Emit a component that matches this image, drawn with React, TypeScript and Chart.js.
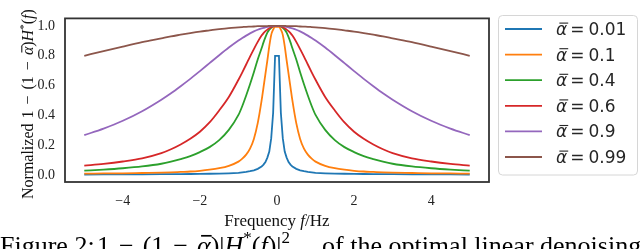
import React, { useEffect, useRef } from "react";
import { Chart, registerables } from "chart.js";
Chart.register(...registerables);

const freqs = [-5, -4.5, -4, -3.5, -3, -2.75, -2.5, -2.25, -2, -1.75, -1.5, -1.25, -1, -0.9, -0.8, -0.7, -0.6, -0.5, -0.4, -0.35, -0.3, -0.25, -0.2, -0.15, -0.1, -0.05,
  0.05, 0.1, 0.15, 0.2, 0.25, 0.3, 0.35, 0.4, 0.5, 0.6, 0.7, 0.8, 0.9, 1, 1.25, 1.5, 1.75, 2, 2.25, 2.5, 2.75, 3, 3.5, 4, 4.5, 5];

const alphas = ["0.01", "0.1", "0.4", "0.6", "0.9", "0.99"];
const colors = ["#1f77b4", "#ff7f0e", "#2ca02c", "#d62728", "#9467bd", "#8c564b"];

const a001 = [0.007, 0.0075, 0.008, 0.0085, 0.009, 0.0095, 0.010, 0.0105, 0.011, 0.012, 0.013, 0.015, 0.018, 0.021, 0.024, 0.029, 0.035, 0.045, 0.06, 0.073, 0.09, 0.12, 0.16, 0.25, 0.42, 0.80,
  0.80, 0.42, 0.25, 0.16, 0.12, 0.09, 0.073, 0.06, 0.045, 0.035, 0.029, 0.024, 0.021, 0.018, 0.015, 0.013, 0.012, 0.011, 0.0105, 0.010, 0.0095, 0.009, 0.0085, 0.008, 0.0075, 0.007];
const a01 = [0.013, 0.014, 0.015, 0.017, 0.019, 0.021, 0.024, 0.027, 0.032, 0.039, 0.049, 0.065, 0.093, 0.113, 0.14, 0.18, 0.245, 0.35, 0.50, 0.59, 0.68, 0.77, 0.865, 0.94, 0.975, 0.993,
  0.993, 0.975, 0.94, 0.865, 0.77, 0.68, 0.59, 0.50, 0.35, 0.245, 0.18, 0.14, 0.113, 0.093, 0.065, 0.049, 0.039, 0.032, 0.027, 0.024, 0.021, 0.019, 0.017, 0.015, 0.014, 0.013];
const a04 = [0.033, 0.04, 0.049, 0.061, 0.079, 0.093, 0.11, 0.13, 0.157, 0.19, 0.237, 0.305, 0.405, 0.465, 0.535, 0.61, 0.69, 0.775, 0.85, 0.89, 0.925, 0.955, 0.975, 0.988, 0.996, 1.0,
  1.0, 0.996, 0.988, 0.975, 0.955, 0.925, 0.89, 0.85, 0.775, 0.69, 0.61, 0.535, 0.465, 0.405, 0.305, 0.237, 0.19, 0.157, 0.13, 0.11, 0.093, 0.079, 0.061, 0.049, 0.04, 0.033];
const a06 = [0.066, 0.078, 0.094, 0.115, 0.150, 0.176, 0.208, 0.246, 0.293, 0.355, 0.435, 0.525, 0.64, 0.69, 0.742, 0.795, 0.845, 0.893, 0.935, 0.952, 0.965, 0.975, 0.984, 0.991, 0.996, 0.999,
  0.999, 0.996, 0.991, 0.984, 0.975, 0.965, 0.952, 0.935, 0.893, 0.845, 0.795, 0.742, 0.69, 0.64, 0.525, 0.435, 0.355, 0.293, 0.246, 0.208, 0.176, 0.150, 0.115, 0.094, 0.078, 0.066];
const a09 = [0.270, 0.314, 0.366, 0.430, 0.507, 0.550, 0.597, 0.646, 0.698, 0.751, 0.804, 0.855, 0.902, 0.919, 0.935, 0.950, 0.963, 0.974, 0.983, 0.987, 0.990, 0.993, 0.996, 0.998, 0.999, 1.0,
  1.0, 0.999, 0.998, 0.996, 0.993, 0.990, 0.987, 0.983, 0.974, 0.963, 0.950, 0.935, 0.919, 0.902, 0.855, 0.804, 0.751, 0.698, 0.646, 0.597, 0.550, 0.507, 0.430, 0.366, 0.314, 0.270];
const a099 = [0.800, 0.832, 0.862, 0.891, 0.917, 0.930, 0.941, 0.952, 0.962, 0.970, 0.978, 0.985, 0.990, 0.992, 0.994, 0.995, 0.996, 0.998, 0.998, 0.999, 0.999, 0.999, 1.0, 1.0, 1.0, 1.0,
  1.0, 1.0, 1.0, 1.0, 0.999, 0.999, 0.999, 0.998, 0.998, 0.996, 0.995, 0.994, 0.992, 0.990, 0.985, 0.978, 0.970, 0.962, 0.952, 0.941, 0.930, 0.917, 0.891, 0.862, 0.832, 0.800];

const series = [a001, a01, a04, a06, a09, a099];

const xTicks = [-4, -2, 0, 2, 4];
const yTicks = [0, 0.2, 0.4, 0.6, 0.8, 1.0];

type Run = { t: string; font: string; dx?: number; dy?: number; bar?: number };

function drawRuns(ctx: CanvasRenderingContext2D, runs: Run[], x: number, y: number, draw = true): number {
  let cx = x;
  for (const r of runs) {
    cx += r.dx || 0;
    ctx.font = r.font;
    const w = ctx.measureText(r.t).width;
    if (draw) {
      ctx.fillText(r.t, cx, y + (r.dy || 0));
      if (r.bar) {
        ctx.save();
        ctx.lineWidth = Math.max(1, r.bar * 0.065);
        ctx.strokeStyle = ctx.fillStyle as string;
        ctx.beginPath();
        const by = y + (r.dy || 0) - r.bar * 0.7;
        ctx.moveTo(cx + w * 0.3, by);
        ctx.lineTo(cx + w + 1, by);
        ctx.stroke();
        ctx.restore();
      }
    }
    cx += w;
  }
  return cx - x;
}

const SERIF = '"Liberation Serif", "Times New Roman", serif';
const SANS = '"DejaVu Sans", sans-serif';

const decor = {
  id: "decor",
  afterDraw(chart: any) {
    const { ctx, chartArea: a } = chart;
    ctx.save();
    // frame
    ctx.strokeStyle = "#333333";
    ctx.lineWidth = 1.8;
    ctx.strokeRect(a.left, a.top, a.right - a.left, a.bottom - a.top);

    // legend box
    const lx = 498.5, ly = 15.5, lw = 139, lh = 159.5, rad = 4;
    ctx.beginPath();
    ctx.moveTo(lx + rad, ly);
    ctx.lineTo(lx + lw - rad, ly);
    ctx.quadraticCurveTo(lx + lw, ly, lx + lw, ly + rad);
    ctx.lineTo(lx + lw, ly + lh - rad);
    ctx.quadraticCurveTo(lx + lw, ly + lh, lx + lw - rad, ly + lh);
    ctx.lineTo(lx + rad, ly + lh);
    ctx.quadraticCurveTo(lx, ly + lh, lx, ly + lh - rad);
    ctx.lineTo(lx, ly + rad);
    ctx.quadraticCurveTo(lx, ly, lx + rad, ly);
    ctx.closePath();
    ctx.fillStyle = "rgba(255,255,255,0.8)";
    ctx.fill();
    ctx.strokeStyle = "#d6d6d6";
    ctx.lineWidth = 1;
    ctx.stroke();

    ctx.textBaseline = "alphabetic";
    ctx.textAlign = "left";
    chart.data.datasets.forEach((ds: any, i: number) => {
      const cy = 29 + i * 25.6;
      ctx.strokeStyle = ds.borderColor;
      ctx.lineWidth = 1.8;
      ctx.beginPath();
      ctx.moveTo(505, cy);
      ctx.lineTo(542, cy);
      ctx.stroke();
      ctx.fillStyle = "#262626";
      drawRuns(ctx, [
        { t: "α", font: `italic 17px ${SANS}`, bar: 17 },
        { t: "=", font: `17px ${SANS}`, dx: 3 },
        { t: alphas[i], font: `17px ${SANS}`, dx: 4 },
      ], 556, cy + 6);
    });

    // x-axis title
    ctx.fillStyle = "#111";
    const xr: Run[] = [
      { t: "Frequency ", font: `17px ${SERIF}` },
      { t: "f", font: `italic 17px ${SERIF}` },
      { t: "/Hz", font: `17px ${SERIF}` },
    ];
    const xw = drawRuns(ctx, xr, 0, 0, false);
    drawRuns(ctx, xr, (a.left + a.right) / 2 - xw / 2, 226);

    // y-axis title (rotated, reading upwards from the bottom)
    ctx.save();
    ctx.translate(33, 199);
    ctx.rotate(-Math.PI / 2);
    drawRuns(ctx, [
      { t: "Normalized", font: `16px ${SERIF}` },
      { t: "1", font: `16px ${SERIF}`, dx: 5 },
      { t: "−", font: `16px ${SERIF}`, dx: 6 },
      { t: "(1", font: `16px ${SERIF}`, dx: 6 },
      { t: "−", font: `16px ${SERIF}`, dx: 6 },
      { t: "α", font: `italic 16px ${SERIF}`, dx: 6, bar: 16 },
      { t: ")", font: `16px ${SERIF}` },
      { t: "H", font: `italic 16px ${SERIF}` },
      { t: "*", font: `11px ${SERIF}`, dy: -6 },
      { t: "(", font: `16px ${SERIF}` },
      { t: "f", font: `italic 16px ${SERIF}` },
      { t: ")", font: `16px ${SERIF}` },
    ], 0, 0);
    ctx.restore();

    // caption (cut off by the bottom edge)
    ctx.fillStyle = "#000";
    drawRuns(ctx, [{ t: "Figure 2:", font: `26px ${SERIF}` }], 0, 254);
    drawRuns(ctx, [
      { t: "1", font: `26px ${SERIF}` },
      { t: "−", font: `26px ${SERIF}`, dx: 9 },
      { t: "(1", font: `26px ${SERIF}`, dx: 9 },
      { t: "−", font: `26px ${SERIF}`, dx: 9 },
      { t: "α", font: `italic 26px ${SERIF}`, dx: 9, bar: 26 },
      { t: ")|", font: `26px ${SERIF}` },
      { t: "H", font: `italic 26px ${SERIF}` },
      { t: "*", font: `17px ${SERIF}`, dy: -11 },
      { t: "(", font: `26px ${SERIF}` },
      { t: "f", font: `italic 26px ${SERIF}` },
      { t: ")|", font: `26px ${SERIF}` },
      { t: "2", font: `17px ${SERIF}`, dy: -11 },
    ], 97, 254);
    drawRuns(ctx, [{ t: "of the optimal linear denoising", font: `26px ${SERIF}` }], 322, 254);

    ctx.restore();
  },
};

export default function App() {
  const ref = useRef<HTMLCanvasElement | null>(null);
  useEffect(() => {
    document.body.style.margin = "0";
    const canvas = ref.current!;
    const chart = new Chart(canvas, {
      type: "scatter",
      data: {
        datasets: series.map((vals, i) => ({
          label: `ᾱ = ${alphas[i]}`,
          data: freqs.map((f, j) => ({ x: f, y: vals[j] })),
          showLine: true,
          borderColor: colors[i],
          backgroundColor: colors[i],
          borderWidth: 1.8,
          pointRadius: 0,
          fill: false,
          tension: 0,
          cubicInterpolationMode: i === 0 ? "default" : "monotone",
          order: 5 - i,
        })),
      },
      options: {
        animation: false,
        responsive: false,
        devicePixelRatio: 1,
        events: [],
        layout: { padding: { left: 0, right: 151, top: 15, bottom: 0 } },
        plugins: { legend: { display: false }, tooltip: { enabled: false } },
        scales: {
          x: {
            type: "linear",
            min: -5.5,
            max: 5.5,
            grid: { display: false, drawTicks: false },
            border: { display: false },
            afterBuildTicks: (s: any) => { s.ticks = xTicks.map((v) => ({ value: v })); },
            afterFit: (s: any) => { s.height = 67; },
            ticks: {
              padding: 11,
              color: "#222",
              font: { family: SERIF, size: 14 },
              maxRotation: 0,
              callback: (v: any) => (Number(v) < 0 ? "−" + Math.abs(Number(v)) : String(v)),
            },
          },
          y: {
            type: "linear",
            min: -0.043,
            max: 1.05,
            grid: { display: false, drawTicks: false },
            border: { display: false },
            afterBuildTicks: (s: any) => { s.ticks = yTicks.map((v) => ({ value: v })); },
            afterFit: (s: any) => { s.width = 65; },
            ticks: {
              padding: 10,
              color: "#222",
              font: { family: SERIF, size: 14 },
              callback: (v: any) => Number(v).toFixed(1),
            },
          },
        },
      },
      plugins: [decor],
    } as any);
    return () => chart.destroy();
  }, []);
  return (
    <div style={{ width: 640, height: 249, position: "relative", overflow: "hidden" }}>
      <canvas ref={ref} width={640} height={249} style={{ display: "block" }} />
    </div>
  );
}
